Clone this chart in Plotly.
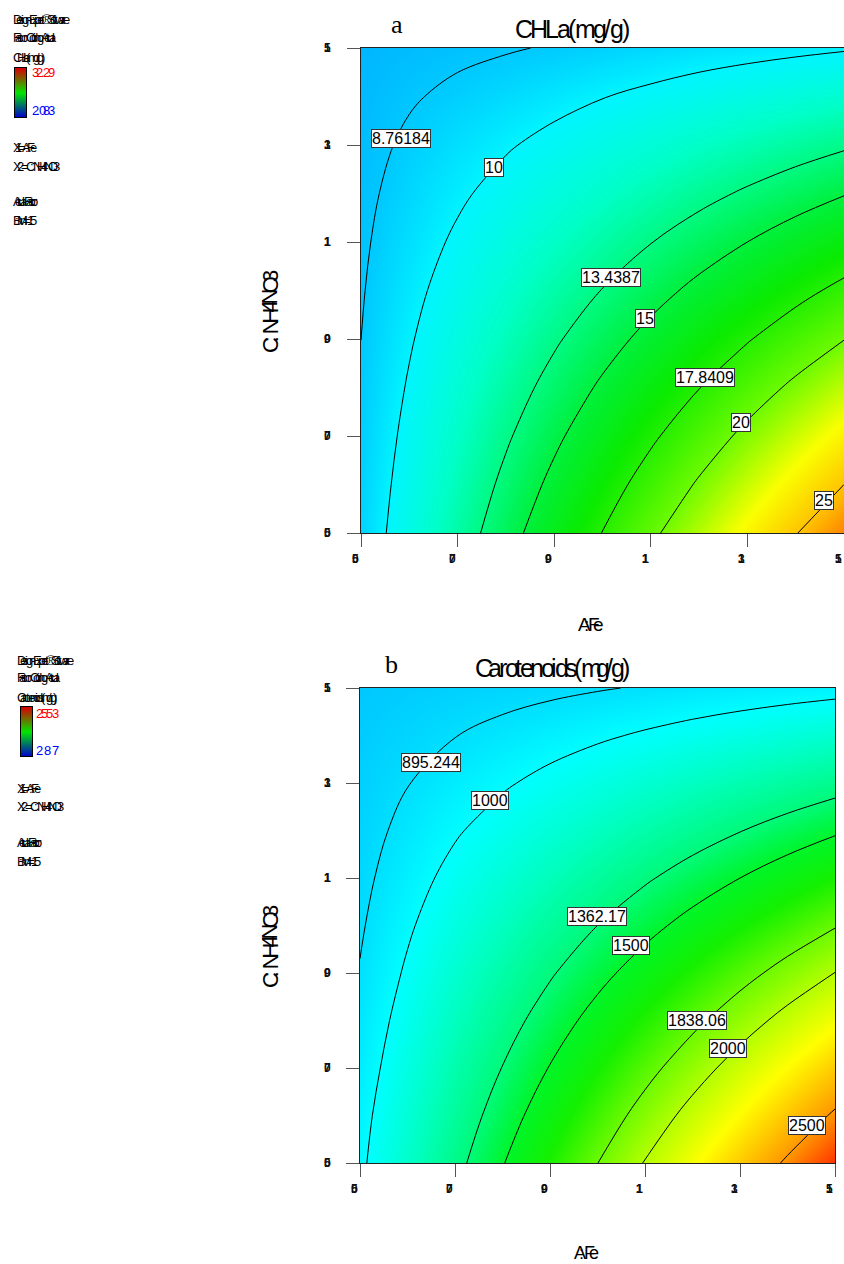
import plotly.graph_objects as go

# ---------------------------------------------------------------- data
FE_LEVELS = [0.5, 0.6, 0.7, 0.8, 0.9, 1.0, 1.1, 1.2, 1.3, 1.4, 1.5]
NH4NO3_LEVELS = [0.5, 0.6, 0.7, 0.8, 0.9, 1.0, 1.1, 1.2, 1.3, 1.4, 1.5]

# CHLa (mg/g); rows follow NH4NO3 (0.5 -> 1.5), columns follow Fe (0.5 -> 1.5)
CHLA_MG_G = [
    [9.08, 10.84, 12.6, 14.36, 16.12, 17.88, 19.64, 21.4, 23.16, 24.92, 26.68],
    [9.0, 10.6, 12.2, 13.8, 15.4, 17.0, 18.6, 20.2, 21.8, 23.4, 25.0],
    [8.92, 10.36, 11.8, 13.24, 14.68, 16.12, 17.56, 19.0, 20.44, 21.88, 23.32],
    [8.84, 10.12, 11.4, 12.68, 13.96, 15.24, 16.52, 17.8, 19.08, 20.36, 21.64],
    [8.76, 9.88, 11.0, 12.12, 13.24, 14.36, 15.48, 16.6, 17.72, 18.84, 19.96],
    [8.68, 9.64, 10.6, 11.56, 12.52, 13.48, 14.44, 15.4, 16.36, 17.32, 18.28],
    [8.6, 9.4, 10.2, 11.0, 11.8, 12.6, 13.4, 14.2, 15.0, 15.8, 16.6],
    [8.52, 9.16, 9.8, 10.44, 11.08, 11.72, 12.36, 13.0, 13.64, 14.28, 14.92],
    [8.44, 8.92, 9.4, 9.88, 10.36, 10.84, 11.32, 11.8, 12.28, 12.76, 13.24],
    [8.36, 8.67, 8.96, 9.28, 9.61, 9.96, 10.28, 10.6, 10.92, 11.24, 11.56],
    [8.28, 8.43, 8.56, 8.68, 8.84, 9.02, 9.2, 9.4, 9.56, 9.72, 9.88],
]

# Carotenoids (mg/g); same layout
CAROTENOIDS_MG_G = [
    [975.2, 1147.4, 1319.7, 1491.9, 1664.1, 1836.3, 2008.5, 2180.8, 2353.0, 2525.2, 2697.4],
    [959.4, 1115.8, 1272.3, 1428.7, 1585.1, 1741.5, 1897.9, 2054.4, 2210.8, 2367.2, 2523.6],
    [938.8, 1082.0, 1224.9, 1365.5, 1506.1, 1646.7, 1787.3, 1928.0, 2068.6, 2209.2, 2349.8],
    [919.4, 1048.8, 1177.5, 1302.3, 1427.1, 1551.9, 1676.7, 1801.6, 1926.4, 2051.2, 2176.0],
    [900.0, 1015.6, 1130.1, 1239.1, 1348.1, 1457.1, 1566.1, 1675.2, 1784.2, 1893.2, 2002.2],
    [884.2, 984.0, 1082.7, 1175.9, 1269.1, 1362.3, 1455.5, 1548.8, 1642.0, 1735.2, 1828.4],
    [869.6, 952.9, 1035.3, 1112.7, 1190.1, 1267.5, 1344.9, 1422.4, 1499.8, 1577.2, 1654.6],
    [856.2, 922.4, 987.9, 1049.5, 1111.1, 1172.7, 1234.3, 1296.0, 1357.6, 1419.2, 1480.8],
    [843.4, 892.2, 940.5, 986.3, 1032.1, 1077.9, 1123.7, 1169.6, 1215.4, 1261.2, 1307.0],
    [830.6, 861.9, 893.1, 923.1, 953.1, 983.1, 1013.1, 1043.2, 1073.2, 1103.2, 1133.2],
    [817.2, 831.4, 845.7, 859.9, 874.1, 888.3, 902.5, 916.8, 931.0, 945.2, 959.4],
]

CHLA_CONTOURS = [8.76184, 10, 13.4387, 15, 17.8409, 20, 25]
CAROT_CONTOURS = [895.244, 1000, 1362.17, 1500, 1838.06, 2000, 2500]

TICK_VALUES = [0.5, 0.7, 0.9, 1.1, 1.3, 1.5]
TICK_TEXT = ["0.5", "0.7", "0.9", "1.1", "1.3", "1.5"]

CHLA_LEGEND_LOW, CHLA_LEGEND_HIGH = 2.083, 32.29
CAROT_LEGEND_LOW, CAROT_LEGEND_HIGH = 287, 2553

# ---------------------------------------------------------------- styles
CHLA_STOP_VALUES = [8.2, 10, 11.8, 13.4, 15, 17, 20, 22.8, 25, 26.7]
CHLA_STOP_COLORS = ["rgb(0,180,255)", "rgb(0,245,255)", "rgb(0,255,200)", "rgb(0,250,130)",
                    "rgb(0,240,60)", "rgb(10,235,0)", "rgb(110,250,0)", "rgb(250,255,0)",
                    "rgb(255,195,0)", "rgb(255,130,0)"]
CAROT_STOP_VALUES = [817, 1000, 1180, 1362, 1500, 1650, 1838, 2000, 2200, 2500, 2697]
CAROT_STOP_COLORS = ["rgb(0,200,255)", "rgb(0,255,255)", "rgb(0,255,190)", "rgb(0,250,120)",
                     "rgb(0,245,40)", "rgb(20,240,0)", "rgb(110,250,0)", "rgb(180,255,0)",
                     "rgb(255,255,0)", "rgb(255,150,0)", "rgb(255,50,0)"]
LEGEND_BAR_SCALE = [[0, "rgb(0,0,205)"], [0.5, "rgb(0,230,0)"], [1, "rgb(215,0,0)"]]

SANS = "Liberation Sans, Arial, sans-serif"
SERIF = "Liberation Serif, Times New Roman, serif"
FIG_W, FIG_H = 844, 1264

# Arial advance widths (em) used to lay out the condensed text runs
EM = {'D': .722, 'e': .556, 's': .5, 'i': .222, 'g': .556, 'n': .556, '-': .333, 'E': .667,
      'x': .5, 'p': .556, 'r': .333, 't': .278, '®': .737, ' ': .278, 'S': .667, 'o': .556,
      'f': .278, 'w': .722, 'a': .556, 'F': .611, 'c': .5, 'C': .722, 'd': .556, ':': .278,
      'A': .667, 'u': .556, 'l': .222, 'H': .722, 'L': .556, '(': .333, ')': .333, 'm': .833,
      '/': .278, 'X': .667, '=': .584, 'N': .722, 'O': .778, 'B': .667, 'M': .833, '.': .278}


def scale_from(values, colors):
    lo, hi = values[0], values[-1]
    return [[(v - lo) / (hi - lo), c] for v, c in zip(values, colors)]


def px(x):
    return x / FIG_W


def py(y):
    return 1 - y / FIG_H


annotations = []


def glyph(x, y, ch, size, color="black", bold=False, angle=0, xanchor="center",
          family=SANS, xref="paper", yref="paper", xshift=0):
    annotations.append(dict(
        x=x, y=y, xref=xref, yref=yref, text=ch, showarrow=False, xanchor=xanchor,
        yanchor="middle", textangle=angle, borderpad=0, xshift=xshift,
        font=dict(family=family, size=size, color=color, weight="bold" if bold else "normal")))


def condensed(text, left, cy, size, span, color="black"):
    """Lay a text run out with tightened character advances so it fills `span` px."""
    widths = [EM.get(c, 0.556) * size for c in text]
    step = (span - widths[-1]) / sum(widths[:-1])
    pos = left
    for c, w in zip(text, widths):
        if c != " ":
            glyph(px(pos + w / 2), py(cy), c, size, color)
        pos += w * step


def condensed_up(text, cx, bottom, size, span):
    widths = [EM.get(c, 0.556) * size for c in text]
    step = (span - widths[-1]) / sum(widths[:-1])
    pos = 0.0
    for c, w in zip(text, widths):
        if c != " ":
            glyph(px(cx), py(bottom - pos - w / 2), c, size, angle=-90)
        pos += w * step


fig = go.Figure()

panels = [
    dict(xa="x", ya="y", z=CHLA_MG_G, levels=CHLA_CONTOURS,
         scale=scale_from(CHLA_STOP_VALUES, CHLA_STOP_COLORS),
         zmin=CHLA_STOP_VALUES[0], zmax=CHLA_STOP_VALUES[-1]),
    dict(xa="x2", ya="y2", z=CAROTENOIDS_MG_G, levels=CAROT_CONTOURS,
         scale=scale_from(CAROT_STOP_VALUES, CAROT_STOP_COLORS),
         zmin=CAROT_STOP_VALUES[0], zmax=CAROT_STOP_VALUES[-1]),
]

for p in panels:
    fig.add_trace(go.Heatmap(
        x=FE_LEVELS, y=NH4NO3_LEVELS, z=p["z"], zsmooth="best", colorscale=p["scale"],
        zmin=p["zmin"], zmax=p["zmax"], showscale=False, hoverinfo="skip",
        xaxis=p["xa"], yaxis=p["ya"]))
    for lv in p["levels"]:
        fig.add_trace(go.Contour(
            x=FE_LEVELS, y=NH4NO3_LEVELS, z=p["z"], autocontour=False,
            contours=dict(start=lv, end=lv, size=1, coloring="none"),
            line=dict(color="black", width=1, smoothing=1.0),
            showscale=False, hoverinfo="skip", xaxis=p["xa"], yaxis=p["ya"]))

# legend gradient bars
for xa, ya, lo, hi in [("x3", "y3", CHLA_LEGEND_LOW, CHLA_LEGEND_HIGH),
                       ("x4", "y4", CAROT_LEGEND_LOW, CAROT_LEGEND_HIGH)]:
    fig.add_trace(go.Heatmap(
        x=[0, 1], y=[0, 1], z=[[lo, lo], [hi, hi]], zsmooth="best",
        colorscale=LEGEND_BAR_SCALE, zmin=lo, zmax=hi, showscale=False,
        hoverinfo="skip", xaxis=xa, yaxis=ya))

# contour value labels
CHLA_LABEL_AT = [(0.583, 1.314), (0.775, 1.253), (1.017, 1.026), (1.087, 0.943),
                 (1.213, 0.82), (1.287, 0.727), (1.458, 0.568)]
CAROT_LABEL_AT = [(0.649, 1.344), (0.774, 1.264), (0.999, 1.02), (1.071, 0.957),
                  (1.209, 0.799), (1.275, 0.742), (1.441, 0.578)]
for levels, spots, xr, yr in [(CHLA_CONTOURS, CHLA_LABEL_AT, "x", "y"),
                              (CAROT_CONTOURS, CAROT_LABEL_AT, "x2", "y2")]:
    for lv, (lx, ly) in zip(levels, spots):
        annotations.append(dict(
            x=lx, y=ly, xref=xr, yref=yr, text=f"{lv:g}", showarrow=False,
            bgcolor="white", bordercolor="#333", borderwidth=1, borderpad=0,
            font=dict(family=SANS, size=16, color="black")))

# tick labels (glyphs of each value stacked on one spot)
for xr, yr, base_y in [("x", "y", 559), ("x2", "y2", 1189)]:
    for v, t in zip(TICK_VALUES, TICK_TEXT):
        for c in t:
            glyph(v, py(base_y), c, 12, color="#111", bold=True, xanchor="left",
                  xref=xr, yref="paper", xshift=-10)
            glyph(px(323), v, c, 12, color="#111", bold=True, xanchor="left",
                  xref="paper", yref=yr)

# titles
glyph(px(397), py(25), "a", 26, family=SERIF)
glyph(px(391), py(664), "b", 26, family=SERIF)
condensed("CHLa(mg/g)", 515, 29, 25, 115)
condensed("Carotenoids(mg/g)", 475, 668, 25, 155)
condensed("A: Fe", 578, 624, 19, 26)
condensed("A: Fe", 574, 1253, 18, 25)
condensed_up("C: NH4NO3", 270, 353, 22, 83)
condensed_up("C: NH4NO3", 270, 988, 22, 83)

# side legends
for left, top, resp, hi_txt, lo_txt, w3 in [
        (12.7, 20, "CHLa(mg/g)", f"{CHLA_LEGEND_HIGH:g}", f"{CHLA_LEGEND_LOW:g}", 32),
        (16.7, 660, "Carotenoids(mg/g)", f"{CAROT_LEGEND_HIGH:g}", f"{CAROT_LEGEND_LOW:g}", 40)]:
    condensed("Design-Expert® Software", left, top, 13, 57)
    condensed("Factor Coding: Actual", left, top + 17, 13, 42)
    condensed(resp, left, top + 37, 13, w3)
    condensed(hi_txt, left + 19, top + 53, 13, 23, color="red")
    condensed(lo_txt, left + 19, top + 90, 13, 23, color="blue")
    condensed("X1 = A: Fe", left, top + 128, 13, 24)
    condensed("X2 = C: NH4NO3", left, top + 146, 13, 47)
    condensed("Actual Factor", left, top + 182, 13, 25)
    condensed("B: Mn = 1.5", left, top + 201, 13, 24)


def main_x(domain, anchor):
    return dict(domain=domain, anchor=anchor, range=[0.5, 1.5], tickvals=TICK_VALUES,
                ticks="outside", ticklen=13, tickcolor="#555", tickwidth=1,
                showticklabels=False, showline=True, linecolor="#222", linewidth=1,
                mirror=True, showgrid=False, zeroline=False)


def main_y(domain, anchor, mirror):
    d = main_x(domain, anchor)
    d["mirror"] = mirror
    return d


def bar_axis(domain, anchor):
    return dict(domain=domain, anchor=anchor, range=[0, 1], showticklabels=False,
                ticks="", showline=True, linecolor="black", linewidth=1, mirror=True,
                showgrid=False, zeroline=False)


fig.update_layout(
    width=FIG_W, height=FIG_H, margin=dict(l=0, r=0, t=0, b=0),
    paper_bgcolor="white", plot_bgcolor="white", showlegend=False, hovermode=False,
    annotations=annotations,
    xaxis=main_x([361 / FIG_W, 1.0], "y"),
    yaxis=main_y([py(533), py(48)], "x", False),
    xaxis2=main_x([360 / FIG_W, 835 / FIG_W], "y2"),
    yaxis2=main_y([py(1163), py(688)], "x2", True),
    xaxis3=bar_axis([15 / FIG_W, 26 / FIG_W], "y3"),
    yaxis3=bar_axis([py(117), py(68)], "x3"),
    xaxis4=bar_axis([21 / FIG_W, 32 / FIG_W], "y4"),
    yaxis4=bar_axis([py(756), py(707)], "x4"),
)

fig.write_html("out.html")
